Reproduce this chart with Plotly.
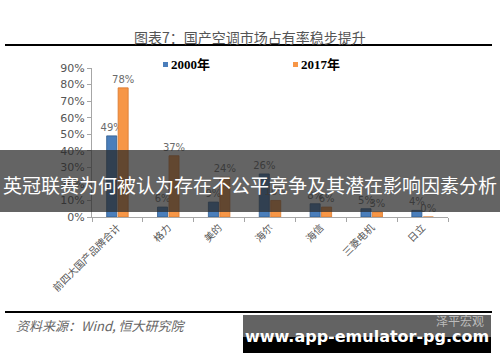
import plotly.graph_objects as go

categories = ["前四大国产品牌合计", "格力", "美的", "海尔", "海信", "三菱电机", "日立"]
share_2000 = [49, 6, 9, 26, 8, 5, 4]
share_2017 = [78, 37, 24, 10, 6, 3, 0]
series_names = ["2000年", "2017年"]
series_colors = ["#4a7ebb", "#f79646"]
y_ticks = [0, 10, 20, 30, 40, 50, 60, 70, 80, 90]

W, H = 500, 362
L, R, T, B = 92, 52, 68, 145
PW, PH = W - L - R, H - T - B

def px(x):
    return (x - L) / PW

def py(y):
    return (H - B - y) / PH

fig = go.Figure()
for name, vals, col, lc in [(series_names[0], share_2000, series_colors[0], "#2f5a8c"),
                            (series_names[1], share_2017, series_colors[1], "#d9782e")]:
    fig.add_trace(go.Bar(
        x=categories, y=vals, name=name,
        marker=dict(color=col, line=dict(color=lc, width=0.8)),
        text=[f"{v}%" for v in vals], textposition="outside", constraintext="none",
        textfont=dict(color="#6b6b6b", size=10, family="DejaVu Sans"), cliponaxis=False,
        showlegend=False,
    ))

shapes = [
    dict(type="line", xref="paper", yref="paper", x0=px(5), x1=px(492), y0=py(45), y1=py(45),
         line=dict(color="black", width=2)),
    dict(type="line", xref="paper", yref="paper", x0=px(5), x1=px(492), y0=py(312), y1=py(312),
         line=dict(color="black", width=2)),
    # legend swatches
    dict(type="rect", xref="paper", yref="paper", x0=px(163), x1=px(168), y0=py(62), y1=py(67),
         fillcolor=series_colors[0], line=dict(width=0)),
    dict(type="rect", xref="paper", yref="paper", x0=px(293), x1=px(298), y0=py(62), y1=py(67),
         fillcolor=series_colors[1], line=dict(width=0)),
    # overlay band
    dict(type="rect", xref="paper", yref="paper", x0=px(0), x1=px(500), y0=py(150), y1=py(212),
         fillcolor="rgba(40,40,40,0.72)", line=dict(width=0), layer="above"),
    # watermark box
    dict(type="rect", xref="paper", yref="paper", x0=px(243), x1=px(491), y0=py(315), y1=py(337),
         fillcolor="rgba(60,60,60,0.8)", line=dict(width=0), layer="above"),
    dict(type="rect", xref="paper", yref="paper", x0=px(243), x1=px(491), y0=py(337), y1=py(353),
         fillcolor="black", line=dict(width=0), layer="above"),
]

def ann(text, x, y, size, color, family, xanchor="center"):
    return dict(text=text, xref="paper", yref="paper", x=px(x), y=py(y),
                xanchor=xanchor, yanchor="middle", showarrow=False,
                font=dict(size=size, color=color, family=family))

annotations = [
    ann("图表7：国产空调市场占有率稳步提升", 250, 37, 14, "#555555", "Noto Sans CJK SC"),
    ann("<b>" + series_names[0] + "</b>", 169, 64.5, 13, "black",
        "Liberation Serif, Noto Sans CJK SC", "left"),
    ann("<b>" + series_names[1] + "</b>", 299, 64.5, 13, "black",
        "Liberation Serif, Noto Sans CJK SC", "left"),
    ann("<i>资料来源：Wind, 恒大研究院</i>", 14, 325, 13, "#666666", "Noto Sans CJK SC", "left"),
    ann("英冠联赛为何被认为存在不公平竞争及其潜在影响因素分析", 250, 184, 19, "white",
        "Noto Sans CJK SC"),
    ann("泽平宏观", 460, 320, 12, "#bbbbbb", "Noto Sans CJK SC"),
    ann("<b>www.app-emulator-pg.com</b>", 367, 336, 16, "white", "DejaVu Sans"),
]

fig.update_layout(
    width=W, height=H, margin=dict(l=L, r=R, t=T, b=B),
    paper_bgcolor="white", plot_bgcolor="white",
    barmode="group", bargap=0.55, bargroupgap=0.12,
    shapes=shapes, annotations=annotations,
    showlegend=False,
    xaxis=dict(showline=True, linecolor="#a6a6a6", linewidth=1, ticks="outside",
               tickson="boundaries", ticklen=4, tickcolor="#a6a6a6",
               tickangle=-45, tickfont=dict(size=10, color="#555555", family="Noto Sans CJK SC"),
               showgrid=False),
    yaxis=dict(range=[0, 90], tickvals=y_ticks, ticktext=[f"{v}%" for v in y_ticks],
               showline=True, linecolor="#a6a6a6", linewidth=1, ticks="outside", ticklen=4,
               tickcolor="#a6a6a6", showgrid=False,
               tickfont=dict(size=11, color="#555555", family="DejaVu Sans")),
)
fig.write_html("out.html")
